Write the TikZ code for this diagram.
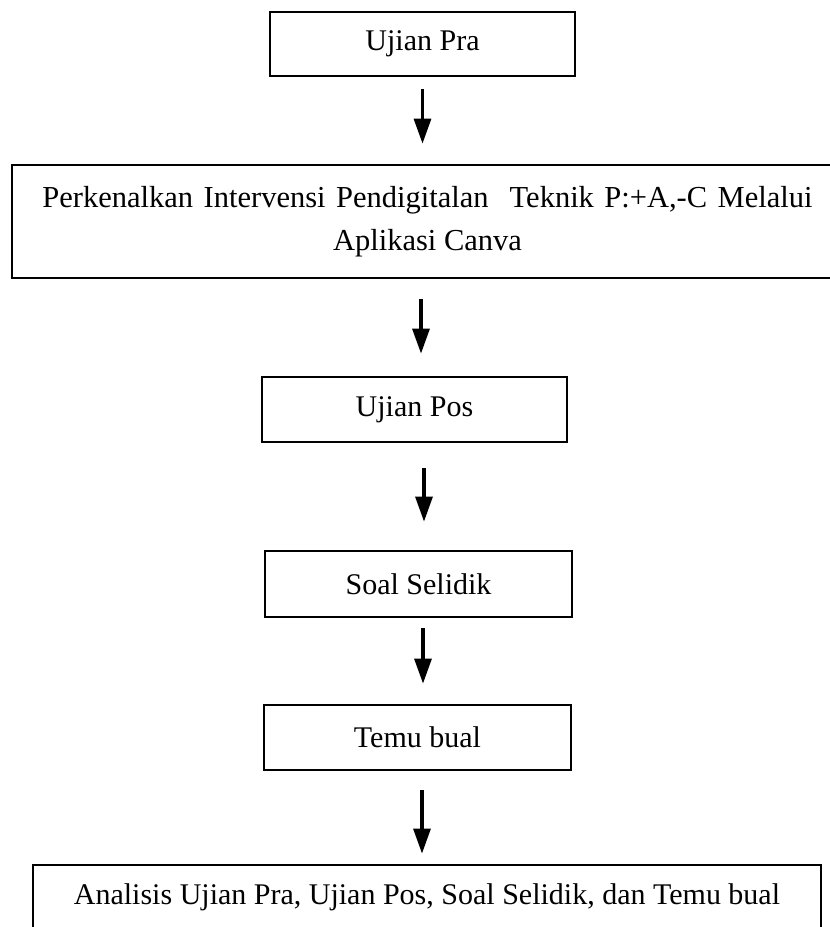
\documentclass[tikz,border=0pt]{standalone}
\usepackage{fontspec}
\setmainfont{Liberation Serif}
\usetikzlibrary{arrows.meta}
\begin{document}
\begin{tikzpicture}[x=1pt,y=-1pt,
  stepbox/.style={draw=black, line width=2.8pt, rectangle, inner sep=0pt,
    font=\fontsize{30}{43}\selectfont, align=center},
  flow/.style={line width=3.2pt, -{Triangle[length=25pt,width=17pt]}}]
\useasboundingbox (0,0) rectangle (830,927);
\fill[white] (0,0) rectangle (830,927);
\clip (0,0) rectangle (830,927);

% process steps
\node[stepbox, minimum width=305pt, minimum height=64pt] (b1) at (422.5,44) {Ujian Pra};
\node[stepbox, minimum width=831pt, minimum height=113pt,
      font=\fontsize{30.5}{43}\selectfont] (b2) at (427.5,221.5)
  {\spaceskip=10.5pt Perkenalkan Intervensi Pendigitalan\ \ Teknik P:+A,-C Melalui\\Aplikasi Canva};
\node[stepbox, minimum width=305pt, minimum height=65pt] (b3) at (414.5,409.5) {Ujian Pos};
\node[stepbox, minimum width=307pt, minimum height=66pt] (b4) at (418.5,584) {Soal Selidik};
\node[stepbox, minimum width=307pt, minimum height=65pt] (b5) at (417.5,737.5) {Temu bual};
\node[stepbox, minimum width=788pt, minimum height=65pt] (b6) at (427,897.5)
  {Analisis Ujian Pra, Ujian Pos, Soal Selidik, dan Temu bual};

% connecting arrows
\draw[flow, shorten <=12pt, shorten >=20pt] (b1.south) -- (b1.south |- b2.north);
\draw[flow, shorten <=20pt, shorten >=22pt] ([xshift=6.5pt]b3.north |- b2.south) -- ([xshift=6.5pt]b3.north);
\draw[flow, shorten <=25pt, shorten >=28pt] ([xshift=9.5pt]b3.south) -- ([xshift=9.5pt]b3.south |- b4.north);
\draw[flow, shorten <=10pt, shorten >=20pt] ([xshift=4.5pt]b4.south) -- ([xshift=4.5pt]b4.south |- b5.north);
\draw[flow, shorten <=19pt, shorten >=10pt] ([xshift=4.5pt]b5.south) -- ([xshift=4.5pt]b5.south |- b6.north);
\end{tikzpicture}
\end{document}
